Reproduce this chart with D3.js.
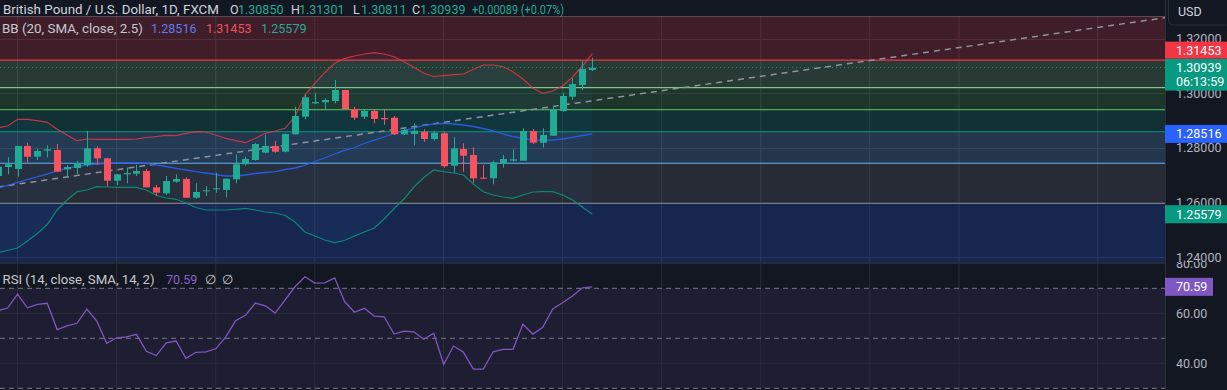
<!DOCTYPE html>
<html><head><meta charset="utf-8">
<script src="https://cdn.jsdelivr.net/npm/d3@7"></script>
<style>
html,body{margin:0;padding:0;background:#131722;overflow:hidden;}
svg{display:block;font-family:Roboto,"Noto Sans",sans-serif;}
</style></head><body>
<svg id="chart" width="1227" height="390"></svg>
<script>
// ---------- DATA ----------
const opens = [1.26976,1.27305,1.27232,1.28073,1.27682,1.27901,1.27927,1.27221,1.27269,1.27378,
1.27989,1.27623,1.26804,1.27038,1.27060,1.27159,1.26563,1.26344,1.26768,1.26867,
1.26183,1.26417,1.26490,1.26464,1.26856,1.27404,1.27561,1.27828,1.28073,1.27865,
1.28501,1.29144,1.29634,1.29671,1.29718,1.30121,1.29426,1.29144,1.29353,1.29097,
1.29108,1.28501,1.28512,1.28596,1.28329,1.28537,1.27353,1.27963,1.27744,1.26914,
1.26892,1.27441,1.27536,1.27536,1.28622,1.28194,1.28450,1.29353,1.29876,1.30303,1.30850];
const highs = [1.27452,1.27660,1.28080,1.28194,1.27974,1.28099,1.28146,1.27378,1.27536,1.28622,
1.28062,1.27630,1.27045,1.27280,1.27389,1.27232,1.26647,1.26976,1.27038,1.26929,
1.26709,1.26611,1.27097,1.26885,1.27770,1.27682,1.28194,1.28475,1.28256,1.28520,
1.29510,1.29938,1.30000,1.29817,1.30486,1.30128,1.29510,1.29426,1.29389,1.29389,
1.29170,1.28757,1.28903,1.28684,1.28633,1.28596,1.28413,1.28172,1.28026,1.27378,
1.27536,1.27744,1.27952,1.28720,1.28695,1.28720,1.29536,1.30022,1.30548,1.31192,1.31301];
const lows = [1.26830,1.27038,1.26951,1.27463,1.27561,1.27660,1.27120,1.26914,1.27049,1.27316,
1.27378,1.26585,1.26647,1.26709,1.26976,1.26555,1.26245,1.26282,1.26731,1.26175,
1.26146,1.26245,1.26366,1.26197,1.26709,1.27353,1.27536,1.27806,1.27828,1.27843,
1.28495,1.29049,1.29609,1.29426,1.29634,1.29420,1.29024,1.29060,1.28903,1.28841,
1.28475,1.28475,1.28099,1.28230,1.28267,1.27280,1.27097,1.27133,1.26731,1.26870,
1.26673,1.27280,1.27499,1.27530,1.28146,1.28011,1.28445,1.29327,1.29755,1.30121,1.30811];
const closes = [1.27316,1.27404,1.28073,1.27682,1.27890,1.27952,1.27133,1.27305,1.27441,1.27989,
1.27623,1.26804,1.27038,1.27086,1.27159,1.26563,1.26366,1.26793,1.26867,1.26183,
1.26391,1.26453,1.26527,1.26878,1.27404,1.27598,1.28146,1.28073,1.27865,1.28512,
1.29170,1.29854,1.29682,1.29755,1.30121,1.29426,1.29108,1.29353,1.29060,1.29049,
1.28501,1.28658,1.28633,1.28329,1.28559,1.27335,1.27989,1.27718,1.26892,1.26878,
1.27477,1.27598,1.27587,1.28622,1.28194,1.28475,1.29415,1.29901,1.30340,1.30888,1.30939];
const bbUpper = [1.28739,1.28804,1.29049,1.29049,1.28998,1.28940,1.28684,1.28475,1.28267,1.28329,
1.28318,1.28318,1.28318,1.28318,1.28329,1.28384,1.28420,1.28464,1.28450,1.28537,
1.28596,1.28585,1.28475,1.28355,1.28267,1.28194,1.28355,1.28537,1.28622,1.28720,
1.29152,1.29938,1.30365,1.30753,1.31097,1.31279,1.31364,1.31437,1.31484,1.31437,
1.31338,1.31155,1.30950,1.30731,1.30614,1.30643,1.30680,1.30705,1.30877,1.31034,
1.31034,1.30972,1.30790,1.30523,1.30194,1.30000,1.30084,1.30267,1.30596,1.30998,1.31453];
const bbBasis = [1.26538,1.26629,1.26739,1.26848,1.26940,1.27049,1.27159,1.27251,1.27324,1.27378,
1.27415,1.27441,1.27452,1.27452,1.27452,1.27441,1.27378,1.27324,1.27258,1.27196,
1.27134,1.27086,1.27031,1.26976,1.26976,1.27013,1.27068,1.27104,1.27134,1.27214,
1.27269,1.27378,1.27506,1.27634,1.27781,1.27909,1.28018,1.28165,1.28292,1.28402,
1.28530,1.28640,1.28731,1.28830,1.28877,1.28903,1.28877,1.28841,1.28786,1.28713,
1.28622,1.28512,1.28420,1.28347,1.28292,1.28282,1.28292,1.28329,1.28391,1.28457,1.28516];
const bbLower = [1.24179,1.24253,1.24344,1.24600,1.24874,1.25203,1.25733,1.26099,1.26402,1.26464,
1.26585,1.26574,1.26563,1.26563,1.26563,1.26464,1.26263,1.26172,1.26124,1.25989,
1.25825,1.25733,1.25733,1.25733,1.25759,1.25795,1.25733,1.25660,1.25624,1.25532,
1.25295,1.24929,1.24783,1.24636,1.24538,1.24618,1.24783,1.24929,1.25075,1.25404,
1.25788,1.26135,1.26574,1.26921,1.27196,1.27134,1.27086,1.27013,1.26684,1.26402,
1.26282,1.26209,1.26161,1.26282,1.26391,1.26402,1.26402,1.26282,1.26099,1.25843,1.25579];
const rsi = [61.1,62.1,67.7,62.2,63.6,64.0,53.5,55.0,56.0,61.7,
56.9,48.0,50.2,50.6,51.6,44.8,43.1,48.2,48.9,42.0,
44.4,44.6,45.8,50.5,57.0,59.2,64.1,63.0,60.1,65.4,
70.6,74.6,72.1,72.2,74.2,64.7,60.4,62.0,58.9,58.6,
51.7,52.9,52.6,49.6,52.0,39.6,46.9,44.4,37.7,37.7,
44.6,45.6,45.6,55.7,51.7,54.4,61.7,64.2,66.9,70.2,70.59];
const fibLevels = [0, 0.236, 0.382, 0.5, 0.618, 0.786, 1, 1.618];
const fibPrices = [1.32826, 1.31210, 1.30210, 1.29402, 1.28594, 1.27443, 1.25978, 1.21746];
const trendIdx = [0, 118];
const trendPrice = [1.26574, 1.32775];
const priceTicks = [1.24, 1.26, 1.28, 1.30, 1.32];
const rsiTicks = [40, 60, 80];
const rsiBands = [70, 50, 30];
const gridIdx = [2, 12, 22, 32, 45, 57, 67, 77, 88, 97, 111];
const lastClose = 1.30939;
const change = "+0.00089 (+0.07%)";
const countdown = "06:13:59";

// ---------- STYLE ----------
const BG = "#131722";
const fibColors = ["#787b86","#f23645","#81c784","#4caf50","#089981","#64b5f6","#787b86","#2962ff"];
const UP = "#22ab94", DOWN = "#f7525f";
const W = 1227, H = 390, PW = 1165;
const pricePane = {top: 0, bottom: 262};
const rsiPane = {top: 262, bottom: 390};

const svg = d3.select("#chart");
svg.append("rect").attr("width", W).attr("height", H).attr("fill", BG);

const x = d3.scaleLinear().domain([0, 60]).range([-2.3, 592.3]);
const y = d3.scaleLinear().domain([1.24, 1.32]).range([257.4, 38.6]);
const yr = d3.scaleLinear().domain([30, 80]).range([388.3, 263.3]);

const defs = svg.append("defs");
defs.append("clipPath").attr("id","cp").append("rect").attr("x",0).attr("y",0).attr("width",PW).attr("height",pricePane.bottom);
defs.append("clipPath").attr("id","cr").append("rect").attr("x",0).attr("y",rsiPane.top).attr("width",PW).attr("height",rsiPane.bottom-rsiPane.top);
defs.append("clipPath").attr("id","cpa").append("rect").attr("x",PW).attr("y",0).attr("width",W-PW).attr("height",pricePane.bottom);
defs.append("clipPath").attr("id","cra").append("rect").attr("x",PW).attr("y",rsiPane.top).attr("width",W-PW).attr("height",rsiPane.bottom-rsiPane.top);

// ---------- PRICE PANE ----------
const gp = svg.append("g").attr("clip-path","url(#cp)");
gp.selectAll("line.vg").data(gridIdx).join("line")
  .attr("x1", d=>x(d)).attr("x2", d=>x(d)).attr("y1",0).attr("y2",pricePane.bottom)
  .attr("stroke","#2a2e39").attr("stroke-width",1);
gp.selectAll("line.hg").data(priceTicks).join("line")
  .attr("x1",0).attr("x2",PW).attr("y1",d=>Math.round(y(d))+0.5).attr("y2",d=>Math.round(y(d))+0.5)
  .attr("stroke","#2a2e39").attr("stroke-width",1);

const fibZones = fibPrices.slice(1).map((p,i)=>({top: fibPrices[i], bot: p, color: fibColors[i+1]}));
gp.selectAll("rect.fz").data(fibZones).join("rect")
  .attr("x",0).attr("width",PW)
  .attr("y", d=>y(d.top)).attr("height", d=>y(d.bot)-y(d.top))
  .attr("fill", d=>d.color).attr("fill-opacity",0.2);
gp.selectAll("line.fl").data(fibPrices).join("line")
  .attr("x1",0).attr("x2",PW).attr("y1",d=>y(d)).attr("y2",d=>y(d))
  .attr("stroke",(d,i)=>fibColors[i]).attr("stroke-width",1.2);

const idx = d3.range(opens.length);
gp.append("path").datum(idx)
  .attr("d", d3.area().x(i=>x(i)).y0(i=>y(bbLower[i])).y1(i=>y(bbUpper[i])))
  .attr("fill","#2196f3").attr("fill-opacity",0.05);

gp.append("line")
  .attr("x1", x(trendIdx[0])).attr("y1", y(trendPrice[0]))
  .attr("x2", x(trendIdx[1])).attr("y2", y(trendPrice[1]))
  .attr("stroke","#8f929b").attr("stroke-width",1.5).attr("stroke-dasharray","6 5");

const bbLine = arr => d3.line().x(i=>x(i)).y(i=>y(arr[i]));
gp.append("path").datum(idx).attr("d", bbLine(bbUpper)).attr("fill","none").attr("stroke","#f23645").attr("stroke-opacity",0.8).attr("stroke-width",1.2);
gp.append("path").datum(idx).attr("d", bbLine(bbBasis)).attr("fill","none").attr("stroke","#2962ff").attr("stroke-opacity",0.85).attr("stroke-width",1.3);
gp.append("path").datum(idx).attr("d", bbLine(bbLower)).attr("fill","none").attr("stroke","#089981").attr("stroke-opacity",0.85).attr("stroke-width",1.2);

gp.append("line").attr("x1",0).attr("x2",PW).attr("y1",y(lastClose)).attr("y2",y(lastClose))
  .attr("stroke","#089981").attr("stroke-width",1).attr("stroke-dasharray","1 3");

const cg = gp.append("g");
const col = i => closes[i] >= opens[i] ? UP : DOWN;
cg.selectAll("line.wick").data(idx).join("line")
  .attr("x1", i=>Math.round(x(i))+0.5).attr("x2", i=>Math.round(x(i))+0.5)
  .attr("y1", i=>y(highs[i])).attr("y2", i=>y(lows[i]))
  .attr("stroke", col).attr("stroke-width",1);
cg.selectAll("rect.body").data(idx).join("rect")
  .attr("x", i=>Math.round(x(i))-3).attr("width",7)
  .attr("y", i=>y(Math.max(opens[i],closes[i])))
  .attr("height", i=>Math.max(1, Math.abs(y(opens[i])-y(closes[i]))))
  .attr("fill", col);

// header texts
const hdr = svg.append("g").attr("font-size",12.5);
hdr.append("rect").attr("x",0).attr("y",0).attr("width",PW).attr("height",16).attr("fill",BG);
function seg(g, xx, yy, txt, color, len){
  const t = g.append("text").attr("x",xx).attr("y",yy).attr("fill",color).text(txt);
  if (len) t.attr("textLength", len).attr("lengthAdjust","spacingAndGlyphs");
  return t;
}
seg(hdr, 3, 13.5, "British Pound / U.S. Dollar, 1D, FXCM", "#d1d4dc", 216);
const ohlc = [["O",opens[60]],["H",highs[60]],["L",lows[60]],["C",closes[60]]];
const ohlcX = [230, 291, 353, 412];
ohlc.forEach((d,k)=>{
  seg(hdr, ohlcX[k], 13.5, d[0], "#d1d4dc");
  seg(hdr, ohlcX[k]+8, 13.5, d[1].toFixed(5), UP);
});
seg(hdr, 472, 13.5, change, UP, 92);
seg(hdr, 2, 32.5, "BB (20, SMA, close, 2.5)", "#c7c9d0", 141);
seg(hdr, 151, 32.5, bbBasis[60].toFixed(5), "#5b7ef0");
seg(hdr, 206, 32.5, bbUpper[60].toFixed(5), "#f0505c");
seg(hdr, 261, 32.5, bbLower[60].toFixed(5), UP);

svg.append("line").attr("x1",0).attr("x2",W).attr("y1",262.5).attr("y2",262.5).attr("stroke","#2a2e39").attr("stroke-width",1);

// ---------- RSI PANE ----------
const gr = svg.append("g").attr("clip-path","url(#cr)");
gr.append("rect").attr("x",0).attr("width",PW).attr("y",yr(70)).attr("height",yr(30)-yr(70))
  .attr("fill","#7e57c2").attr("fill-opacity",0.1);
gr.selectAll("line.vg").data(gridIdx).join("line")
  .attr("x1", d=>x(d)).attr("x2", d=>x(d)).attr("y1",rsiPane.top).attr("y2",rsiPane.bottom)
  .attr("stroke","#2a2e39").attr("stroke-width",1);
gr.selectAll("line.hg").data(rsiTicks).join("line")
  .attr("x1",0).attr("x2",PW).attr("y1",d=>yr(d)).attr("y2",d=>yr(d))
  .attr("stroke","#2a2e39").attr("stroke-width",1);
gr.selectAll("line.band").data(rsiBands).join("line")
  .attr("x1",0).attr("x2",PW).attr("y1",d=>yr(d)).attr("y2",d=>yr(d))
  .attr("stroke","#787b86").attr("stroke-width",1).attr("stroke-dasharray","5 4");
gr.append("path").datum(idx).attr("d", d3.line().x(i=>x(i)).y(i=>yr(rsi[i])))
  .attr("fill","none").attr("stroke","#7e57c2").attr("stroke-width",1.3);
const rh = svg.append("g").attr("font-size",12.5);
seg(rh, 2.5, 284, "RSI (14, close, SMA, 14, 2)", "#c7c9d0", 152);
seg(rh, 166, 284, rsi[60].toFixed(2), "#8a64d0");
seg(rh, 205, 284, "\u2205", "#c7c9d0");
seg(rh, 222, 284, "\u2205", "#c7c9d0");

// ---------- RIGHT AXIS ----------
svg.append("rect").attr("x",PW).attr("y",0).attr("width",W-PW).attr("height",H).attr("fill",BG);
svg.append("line").attr("x1",PW+0.5).attr("x2",PW+0.5).attr("y1",0).attr("y2",H).attr("stroke","#2a2e39");
svg.append("rect").attr("x",1168.5).attr("y",-6).attr("width",62).attr("height",31).attr("rx",4)
  .attr("fill","none").attr("stroke","#2a2e39");
svg.append("text").attr("x",1178).attr("y",16).attr("font-size",12.5).attr("fill","#d1d4dc").text("USD");

const pa = svg.append("g").attr("clip-path","url(#cpa)").attr("font-size",12.5);
pa.selectAll("text").data(priceTicks).join("text")
  .attr("x",1176).attr("y",d=>y(d)).attr("dy","0.35em").attr("fill","#b2b5be").text(d=>d.toFixed(5));
const ra = svg.append("g").attr("clip-path","url(#cra)").attr("font-size",12.5);
ra.selectAll("text").data(rsiTicks).join("text")
  .attr("x",1176).attr("y",d=>yr(d)).attr("dy","0.35em").attr("fill","#b2b5be").text(d=>d.toFixed(2));

const lab = svg.append("g").attr("font-size",12.5);
function label(cy, h, color, lines, w){
  const top = cy - 9;
  lab.append("rect").attr("x",PW).attr("y",top).attr("width",w||(W-PW)).attr("height",h).attr("fill",color);
  lines.forEach((t,k)=>lab.append("text").attr("x",1176).attr("y",top+13.5+k*14).attr("fill","#ffffff").text(t));
}
const gC = y(lastClose);
label(gC, 32, "#089981", [lastClose.toFixed(5), countdown]);
const rC = Math.min(y(bbUpper[60]), gC - 17);
label(rC, 17, "#f23645", [bbUpper[60].toFixed(5)]);
label(y(bbBasis[60]), 18, "#2962ff", [bbBasis[60].toFixed(5)]);
label(y(bbLower[60]), 18, "#089981", [bbLower[60].toFixed(5)]);
label(yr(rsi[60]), 18, "#7e57c2", [rsi[60].toFixed(2)], 48);
</script>
</body></html>
